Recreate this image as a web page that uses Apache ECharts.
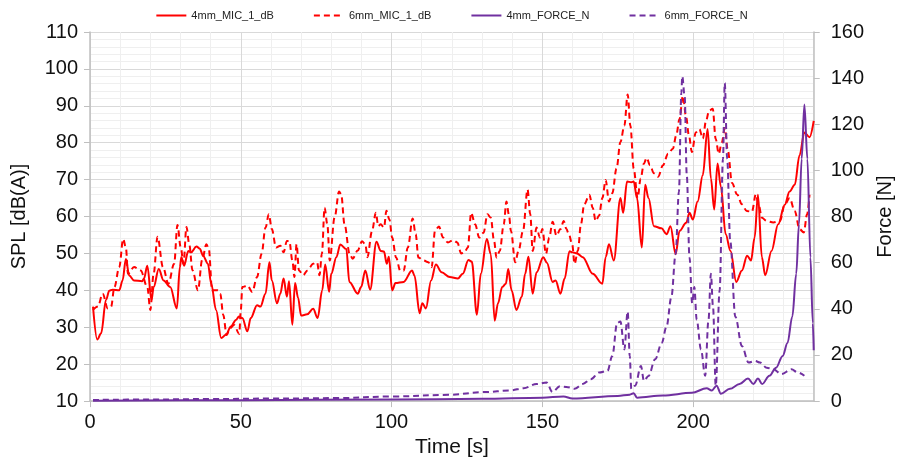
<!DOCTYPE html>
<html>
<head>
<meta charset="utf-8">
<script src="https://cdn.jsdelivr.net/npm/echarts@6/dist/echarts.min.js"></script>
<style>
html,body{margin:0;padding:0;background:#fff;}
#chart{width:903px;height:463px;}
</style>
</head>
<body>
<div id="chart"></div>
<script>
// ---- data ----
const seriesNames = ['4mm_MIC_1_dB', '6mm_MIC_1_dB', '4mm_FORCE_N', '6mm_FORCE_N'];

const mic4_t = [1,2.4,3.7,5.3,6.4,7.5,9.7,10.8,11.9,13,14.6,17.3,17.9,19,20.4,21.1,22.8,24.4,26.6,28.8,29.8,30.3,31.2,32.6,33.5,35.3,36.4,37.5,39.1,40.2,41.8,43.5,45.1,46.7,48.4,49.4,50.5,52.2,53.3,55.4,56.5,58.2,59.5,60.3,62,63.1,64.2,65.3,66,67.1,68,69,70,72,74,75.5,77,78,79.3,80,81.7,83,85,86,88.8,89.9,91.3,92.9,95,96.4,97.5,98.4,99.1,100.2,101.3,104,106.8,107.6,109.3,110.2,111.4,113.1,114.7,116.6,119.3,122,123.6,125.5,126.6,128.3,129.6,131.6,132.9,134.2,135.3,136.7,137.9,138.7,139.8,141.4,143.2,144.3,145.4,146.8,148.1,150.3,151.5,153.4,154.4,156,157.4,159,160,161.5,163.4,166.7,169.9,171,172.1,173.7,175.9,176.8,178.1,179.5,180.3,181.4,183,184.1,185.2,187,189.5,191.2,192.5,194.2,195.5,197.7,198.8,199.9,201.5,203.2,204.8,205.9,207,208.1,209.2,210.8,212.4,214.3,216.2,217.9,219.2,220.4,221.5,222.8,223.9,226,228.2,230.4,232,233.7,235.3,236.9,238.6,240];
const mic4_db = [35.6,26.7,28.4,37.4,39.9,40.2,40,42.7,48.5,44,42.7,42.5,43.2,46.7,37.4,40.9,45.8,42.7,40.9,35.1,46.3,49,46.7,50.7,50.3,51.9,51.3,49.4,47.2,41.8,34.7,27.1,28,30.2,32,32.9,32.5,28.9,32.5,36,35.6,39.1,47.6,42.7,36.5,39.1,43.2,38.3,42.5,30.7,42,38,33.2,33.5,35,32.5,40,47,39.6,44.5,49,52.4,51.2,42.3,39.1,40.9,45.4,40.2,53.2,50.7,50.5,47.2,49.1,40,42,42.3,45.4,44,33.8,36.5,35.1,42.7,47,44.9,43.6,43.2,44.5,48.2,47.8,33.4,44.5,53.9,49.8,31.8,36.5,40.9,41.8,45.8,40,34.7,38.3,44.5,49.1,39.1,44.9,49,47.5,42.3,42.7,39.1,43.2,50.6,50.3,50,49,44.5,41.8,49,52.5,48.1,65,61,69.5,69.3,69.5,65,51.6,68.6,65,57.4,56.8,55.2,57.4,49.8,56.1,58.3,61,59.2,64.1,71.2,83.7,70.3,61.9,74.4,68.1,55.2,50.7,42.3,45.4,49.4,48.1,54.3,65.9,49,44.1,50.7,57.9,63.2,66.8,68.6,76.6,82.8,81.5,85.9];

const mic6_t = [1,2.6,4.2,5.9,7,8.1,9.7,11,11.9,12.6,14.6,16.8,19,20,21.1,22.4,24.2,26,27.9,29,30.1,31,32,32.9,34,35.8,37.2,38.6,39.4,40.5,42.4,43.2,44.2,45.3,46.4,47.8,49.5,50,50.5,52.2,53.8,55.4,56.9,58.2,59.3,60.3,61.7,63.1,64.2,65.3,66.1,67.1,67.8,68.5,69.3,70.7,72.1,74,75.3,76.1,76.9,77.8,78.7,79.5,81.1,82.6,83.3,84.4,86.1,87.1,88.8,90.2,91.3,92,93.5,94.8,95.6,96.4,97.5,98.3,99.3,100.2,101.5,102.9,104,105.4,107,108,108.9,110.6,112.2,113.3,114.4,115.7,117.1,118.7,120.4,121.8,123.1,124.2,125.3,126.4,127.7,129.1,130.5,131.8,132.9,134,134.8,135.9,137.2,138.1,138.9,139.6,141,142.1,143.6,145.1,146,146.8,148.1,149.2,150,151.2,152.3,153.4,154.7,156,157.1,158,158.8,159.9,160.7,161.8,162.8,163.9,165.6,166.7,167.7,168.8,169.9,171,172.1,173.2,174.6,175.9,177.2,178.3,179.2,180.3,181.6,182.6,183.7,184.6,185.7,187,188.4,190,191.7,193.3,194.4,195.5,196.6,197.7,198.6,199.6,200.9,202.1,203.2,204.3,205.3,206.5,207.5,208.5,209.5,210.5,211.5,212.9,214.6,216.2,217.8,219.5,220.8,221.7,222.8,224.4,226.6,228.8,230.4,232,233.7,235.3,236.7,237.8,238.6];
const mic6_db = [34.7,35.6,39.1,35.1,35.6,40.9,46.3,53.9,51.6,44.5,46.3,45.4,40.9,34.7,44.5,54.5,46.3,41.8,47.2,57.7,51.6,47.2,57.2,52.5,45.4,40,48.3,52.5,51.2,40,40,39.1,33.3,27.9,29.7,30.6,28.2,34.5,40.9,41.3,39.6,43.6,49.9,57,60.6,56.6,51.6,52.1,50.3,53.4,53.4,48.1,43.6,52.5,45.4,44.1,45.4,47.2,47.6,44.1,49.9,62.4,57.9,48.1,59.7,66.8,66,57.9,49.9,48.6,50.8,53.3,52.5,49,56,61,57.4,57.9,57,61.6,59.2,54.3,48.9,45.3,45.3,51.6,59.5,55.2,48.9,48.1,47.6,46.3,56.1,57.3,54.3,53,53.6,53,50,50.3,51.6,61,57.9,54.3,55.6,60.6,59.7,53.4,48.9,50.7,57.9,64.1,60.6,56.1,47.6,50.7,56.1,67.3,60.6,50.7,57,54.3,56.6,49.9,54.3,58.6,54.8,56.6,58.8,56.6,55.2,52.5,47.2,50.8,57.9,63.3,65.9,62.4,58.8,60.2,65,69.9,64.1,66.3,73,80.2,84.6,93.1,84.6,73,65,70.3,74.4,75.9,73.9,71.7,70.8,73.9,77,78.4,82,86.4,92.7,86.9,82,77.5,82.8,83.7,81.1,86,88.7,89.2,81,77,80,84,78,69.1,66,63.3,61.5,61.3,66,63.3,59.7,58.8,58.4,58.8,63.3,65,61.5,56.6,55.7,60.6,65.9];

const force4_t = [1,50,100,130,150,157,160,175,179,180.3,181.4,190,199.6,204.5,206.2,207.8,209.2,212.2,215.4,218.2,220,221.5,222.9,225.3,227.5,229.7,231.3,232.9,234.2,235.1,236,236.9,237.9,238.9,239.7,240];
const force4_n = [0.2,0.4,0.7,1.0,1.5,2.0,1.1,2.2,2.8,3.4,1.5,2.4,3.6,5.6,4.6,6.7,3.2,5.3,7.4,9.8,7.4,9.8,7.4,11,14.5,19.6,25.2,36.7,55.2,76.6,105,128.6,105,62.3,33.8,22];

const force6_t = [1,20,40,60,81.7,100.2,118.8,130.7,139.4,143.8,148.1,151.4,153.4,155.8,158.5,160.7,163.4,166.1,168.8,171.6,173.2,174.8,175.9,177.2,178.3,179,179.5,180.8,182.7,183.7,185.2,187.4,189.6,191.2,192.8,194.2,195.3,196.1,196.4,197.2,197.9,198.8,199.7,200.4,201.2,202.6,204,205.1,205.9,206.6,207.5,208.8,209.9,210.5,211.3,212.3,214,216.2,218.4,220.5,222.2,224.4,226.6,229.3,232.6,234.7,236.9];
const force6_n = [0.5,0.7,0.9,1.1,1.3,2.0,2.7,3.9,4.6,5.6,7.4,8.1,3.9,6.4,6.0,5.3,7.4,9.5,12.4,13.1,19.5,33.8,34.5,22.4,38.8,19.5,5.3,6.7,15.2,8.8,10.9,18.1,25.2,32.4,45.2,63.7,90.8,133.6,140.8,132.2,98,62.3,42.4,49.5,35.2,22.4,11,35.2,55.2,40.9,6.7,48,105,137.9,105,69.5,36.6,23.8,16.7,17.4,16.7,14.5,13.8,11.7,13.8,12.4,11];

const xTicks = [0, 50, 100, 150, 200];
const leftTicks = [10, 20, 30, 40, 50, 60, 70, 80, 90, 100, 110];
const rightTicks = [0, 20, 40, 60, 80, 100, 120, 140, 160];

function zip(a, b) { return a.map((v, i) => [v, b[i]]); }

const RED = '#FF0000', PURPLE = '#7030A0';
const FONT = 'Liberation Sans, Arial, sans-serif';

const chart = echarts.init(document.getElementById('chart'), null, {renderer: 'canvas'});

function lineSeries(name, data, color, dashed, yIdx) {
  return {
    name: name, type: 'line', data: data, yAxisIndex: yIdx, xAxisIndex: 0,
    symbol: 'none', smooth: 0.35, smoothMonotone: 'x',
    lineStyle: {color: color, width: 2, type: dashed ? [6, 4] : 'solid'},
    itemStyle: {color: color},
    animation: false
  };
}

chart.setOption({
  animation: false,
  backgroundColor: '#ffffff',
  textStyle: {fontFamily: FONT},
  legend: {
    top: 5, left: 'center', itemWidth: 30, itemHeight: 10, itemGap: 39,
    itemStyle: {opacity: 0},
    textStyle: {fontSize: 11, color: '#222', fontFamily: FONT},
    data: seriesNames
  },
  grid: {left: 90, right: 79, top: 32, bottom: 57},
  xAxis: [{
    type: 'value', min: xTicks[0], max: 240, interval: xTicks[1] - xTicks[0], position: 'bottom',
    axisLine: {show: true, onZero: false, lineStyle: {color: '#bfbfbf', width: 1.5}},
    axisTick: {show: true, length: 6, lineStyle: {color: '#bfbfbf'}},
    axisLabel: {fontSize: 20, color: '#111', margin: 11, showMaxLabel: false, fontFamily: FONT},
    splitLine: {show: false},
    name: 'Time [s]', nameLocation: 'middle', nameGap: 31,
    nameTextStyle: {fontSize: 21, color: '#111', fontFamily: FONT}
  }, {
    type: 'value', min: 0, max: 240, interval: 10, position: 'top',
    axisLine: {show: false, onZero: false}, axisTick: {show: false}, axisLabel: {show: false},
    splitLine: {show: true, lineStyle: {color: ['#d9d9d9', '#efefef', '#efefef', '#efefef', '#efefef'], width: 1}}
  }],
  yAxis: [{
    type: 'value', min: leftTicks[0], max: leftTicks[leftTicks.length - 1], interval: 10, position: 'left',
    axisLine: {show: true, onZero: false, lineStyle: {color: '#bfbfbf', width: 1.5}},
    axisTick: {show: true, length: 6, lineStyle: {color: '#bfbfbf'}},
    axisLabel: {fontSize: 20, color: '#111', margin: 12, fontFamily: FONT},
    splitLine: {show: true, lineStyle: {color: '#d9d9d9', width: 1}},
    minorTick: {show: false, splitNumber: 5},
    minorSplitLine: {show: true, lineStyle: {color: '#efefef', width: 1}},
    name: 'SPL [dB(A)]', nameLocation: 'middle', nameGap: 61,
    nameTextStyle: {fontSize: 20, color: '#111', fontFamily: FONT}
  }, {
    type: 'value', min: rightTicks[0], max: rightTicks[rightTicks.length - 1], interval: 20, position: 'right',
    axisLine: {show: true, onZero: false, lineStyle: {color: '#bfbfbf', width: 1.5}},
    axisTick: {show: true, length: 6, lineStyle: {color: '#bfbfbf'}},
    axisLabel: {fontSize: 20, color: '#111', margin: 17, fontFamily: FONT},
    splitLine: {show: false},
    name: 'Force [N]', nameLocation: 'middle', nameGap: 60, nameRotate: 90,
    nameTextStyle: {fontSize: 20, color: '#111', fontFamily: FONT}
  }],
  series: [
    lineSeries(seriesNames[0], zip(mic4_t, mic4_db), RED, false, 0),
    lineSeries(seriesNames[1], zip(mic6_t, mic6_db), RED, true, 0),
    lineSeries(seriesNames[2], zip(force4_t, force4_n), PURPLE, false, 1),
    lineSeries(seriesNames[3], zip(force6_t, force6_n), PURPLE, true, 1)
  ]
});
</script>
</body>
</html>
